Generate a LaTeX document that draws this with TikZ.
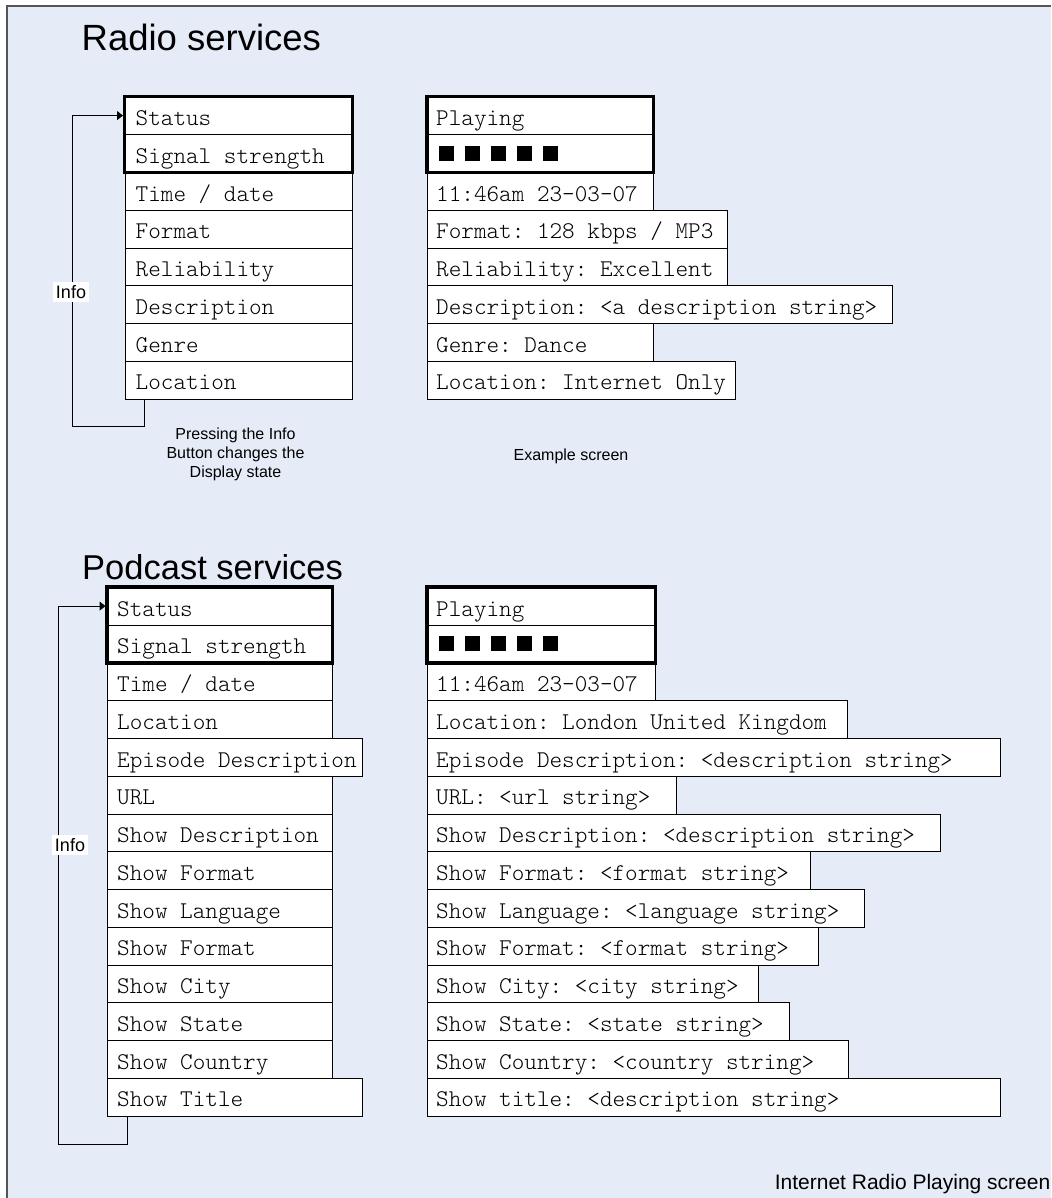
\documentclass[tikz,border=0pt]{standalone}
\usepackage{fontspec}
\setmainfont{Liberation Sans}
\setmonofont{Latin Modern Mono Light}
\usetikzlibrary{arrows.meta}

\definecolor{panel}{RGB}{230,236,247}
\definecolor{frameline}{RGB}{85,85,85}
\newcommand{\screenfont}{\fontsize{24}{28}\selectfont\ttfamily}

\tikzset{
  rowbox/.style={draw, fill=white, anchor=north west, minimum height=37.75pt,
    inner xsep=#1, inner ysep=0pt, text height=24pt, text depth=4pt, font=\screenfont},
  framebox/.style={line width=3.5pt},
  loopline/.style={-{Triangle[length=6pt,width=9pt]}, line width=1pt},
  heading/.style={anchor=base west, inner sep=0pt, font=\fontsize{#1}{40}\selectfont},
  notetext/.style={inner sep=0pt, align=center, font=\fontsize{16}{19}\selectfont},
  infolabel/.style={fill=white, inner sep=3pt, font=\fontsize{18}{20}\selectfont},
  barsq/.style={fill=black, minimum size=15pt, inner sep=0pt}
}

\begin{document}
\begin{tikzpicture}[x=1pt, y=-1pt]
 \fill[white] (0,0) rectangle (1051,1198);
 \useasboundingbox (0,0) rectangle (1051,1198);
 \fill[panel] (7,6) rectangle (1051,1198);
 \draw[frameline, line width=2pt] (7,1198) -- (7,6) -- (1051,6);

 \node[heading=36.5] (rtitle) at (81.5,51) {Radio services};
 \node[heading=34.5] (ptitle) at (82,579.5) {Podcast services};

 \foreach \txt/\w [count=\i] in {Status/227.5, {Signal strength}/227.5, {Time / date}/227.5,
   Format/227.5, Reliability/227.5, Description/227.5, Genre/227.5, Location/227.5} {
  \pgfmathsetmacro\tw{\w-22}
  \node[rowbox=11pt] (rinfo\i) at (124.5,{96.5+37.75*(\i-1)}) {\makebox[\tw pt][l]{\txt}};
 }
 \foreach \txt/\w [count=\i] in {Playing/226, {}/226, {11:46am 23-03-07}/226,
   {Format: 128 kbps / MP3}/300, {Reliability: Excellent}/300,
   {Description: <a description string>}/465, {Genre: Dance}/226,
   {Location: Internet Only}/308} {
  \pgfmathsetmacro\tw{\w-18}
  \node[rowbox=9pt] (rex\i) at (427,{96.5+37.75*(\i-1)}) {\makebox[\tw pt][l]{\txt}};
 }
 \foreach \txt/\w [count=\i] in {Status/225, {Signal strength}/225, {Time / date}/225,
   Location/225, {Episode Description}/255, URL/225, {Show Description}/225,
   {Show Format}/225, {Show Language}/225, {Show Format}/225, {Show City}/225,
   {Show State}/225, {Show Country}/225, {Show Title}/255} {
  \pgfmathsetmacro\tw{\w-20}
  \node[rowbox=10pt] (pinfo\i) at (107,{587+37.75*(\i-1)}) {\makebox[\tw pt][l]{\txt}};
 }
 \foreach \txt/\w [count=\i] in {Playing/228, {}/228, {11:46am 23-03-07}/228,
   {Location: London United Kingdom}/420,
   {Episode Description: <description string>}/573, {URL: <url string>}/249,
   {Show Description: <description string>}/513, {Show Format: <format string>}/383,
   {Show Language: <language string>}/437, {Show Format: <format string>}/391,
   {Show City: <city string>}/331, {Show State: <state string>}/362,
   {Show Country: <country string>}/421, {Show title: <description string>}/573} {
  \pgfmathsetmacro\tw{\w-18}
  \node[rowbox=9pt] (pex\i) at (427,{587+37.75*(\i-1)}) {\makebox[\tw pt][l]{\txt}};
 }

 \foreach \k in {1,...,5} {
  \node[barsq] (rbar\k) at ([xshift={19.5pt+26pt*(\k-1)}]rex2.west) {};
  \node[barsq] (pbar\k) at ([xshift={19.5pt+26pt*(\k-1)}]pex2.west) {};
 }

 \draw[framebox] (rinfo1.north west) rectangle (rinfo2.south east);
 \draw[framebox] (rex1.north west) rectangle (rex2.south east);
 \draw[framebox] (pinfo1.north west) rectangle (pinfo2.south east);
 \draw[framebox] (pex1.north west) rectangle (pex2.south east);

 \coordinate (rstart) at ([xshift=19.5pt]rinfo8.south west);
 \draw[loopline] (rstart) -- ++(0,28) -| ([xshift=-52.5pt]rinfo1.west) -- ([xshift=-1.5pt]rinfo1.west);
 \coordinate (pstart) at ([xshift=20pt]pinfo14.south west);
 \draw[loopline] (pstart) -- ++(0,28.5) -| ([xshift=-49pt]pinfo1.west) -- ([xshift=-1.5pt]pinfo1.west);

 \node[infolabel] (rinfolbl) at (71,292) {Info};
 \node[infolabel] (pinfolbl) at (70,845) {Info};

 \node[notetext, anchor=north] (pressnote) at (235.5,428) {Pressing the Info\\Button changes the\\Display state};
 \node[notetext, anchor=base] (exnote) at (571,460) {Example screen};
 \node[notetext, anchor=base east, font=\fontsize{21}{24}\selectfont] (pagetitle) at (1050.5,1189) {Internet Radio Playing screen};
\end{tikzpicture}
\end{document}
